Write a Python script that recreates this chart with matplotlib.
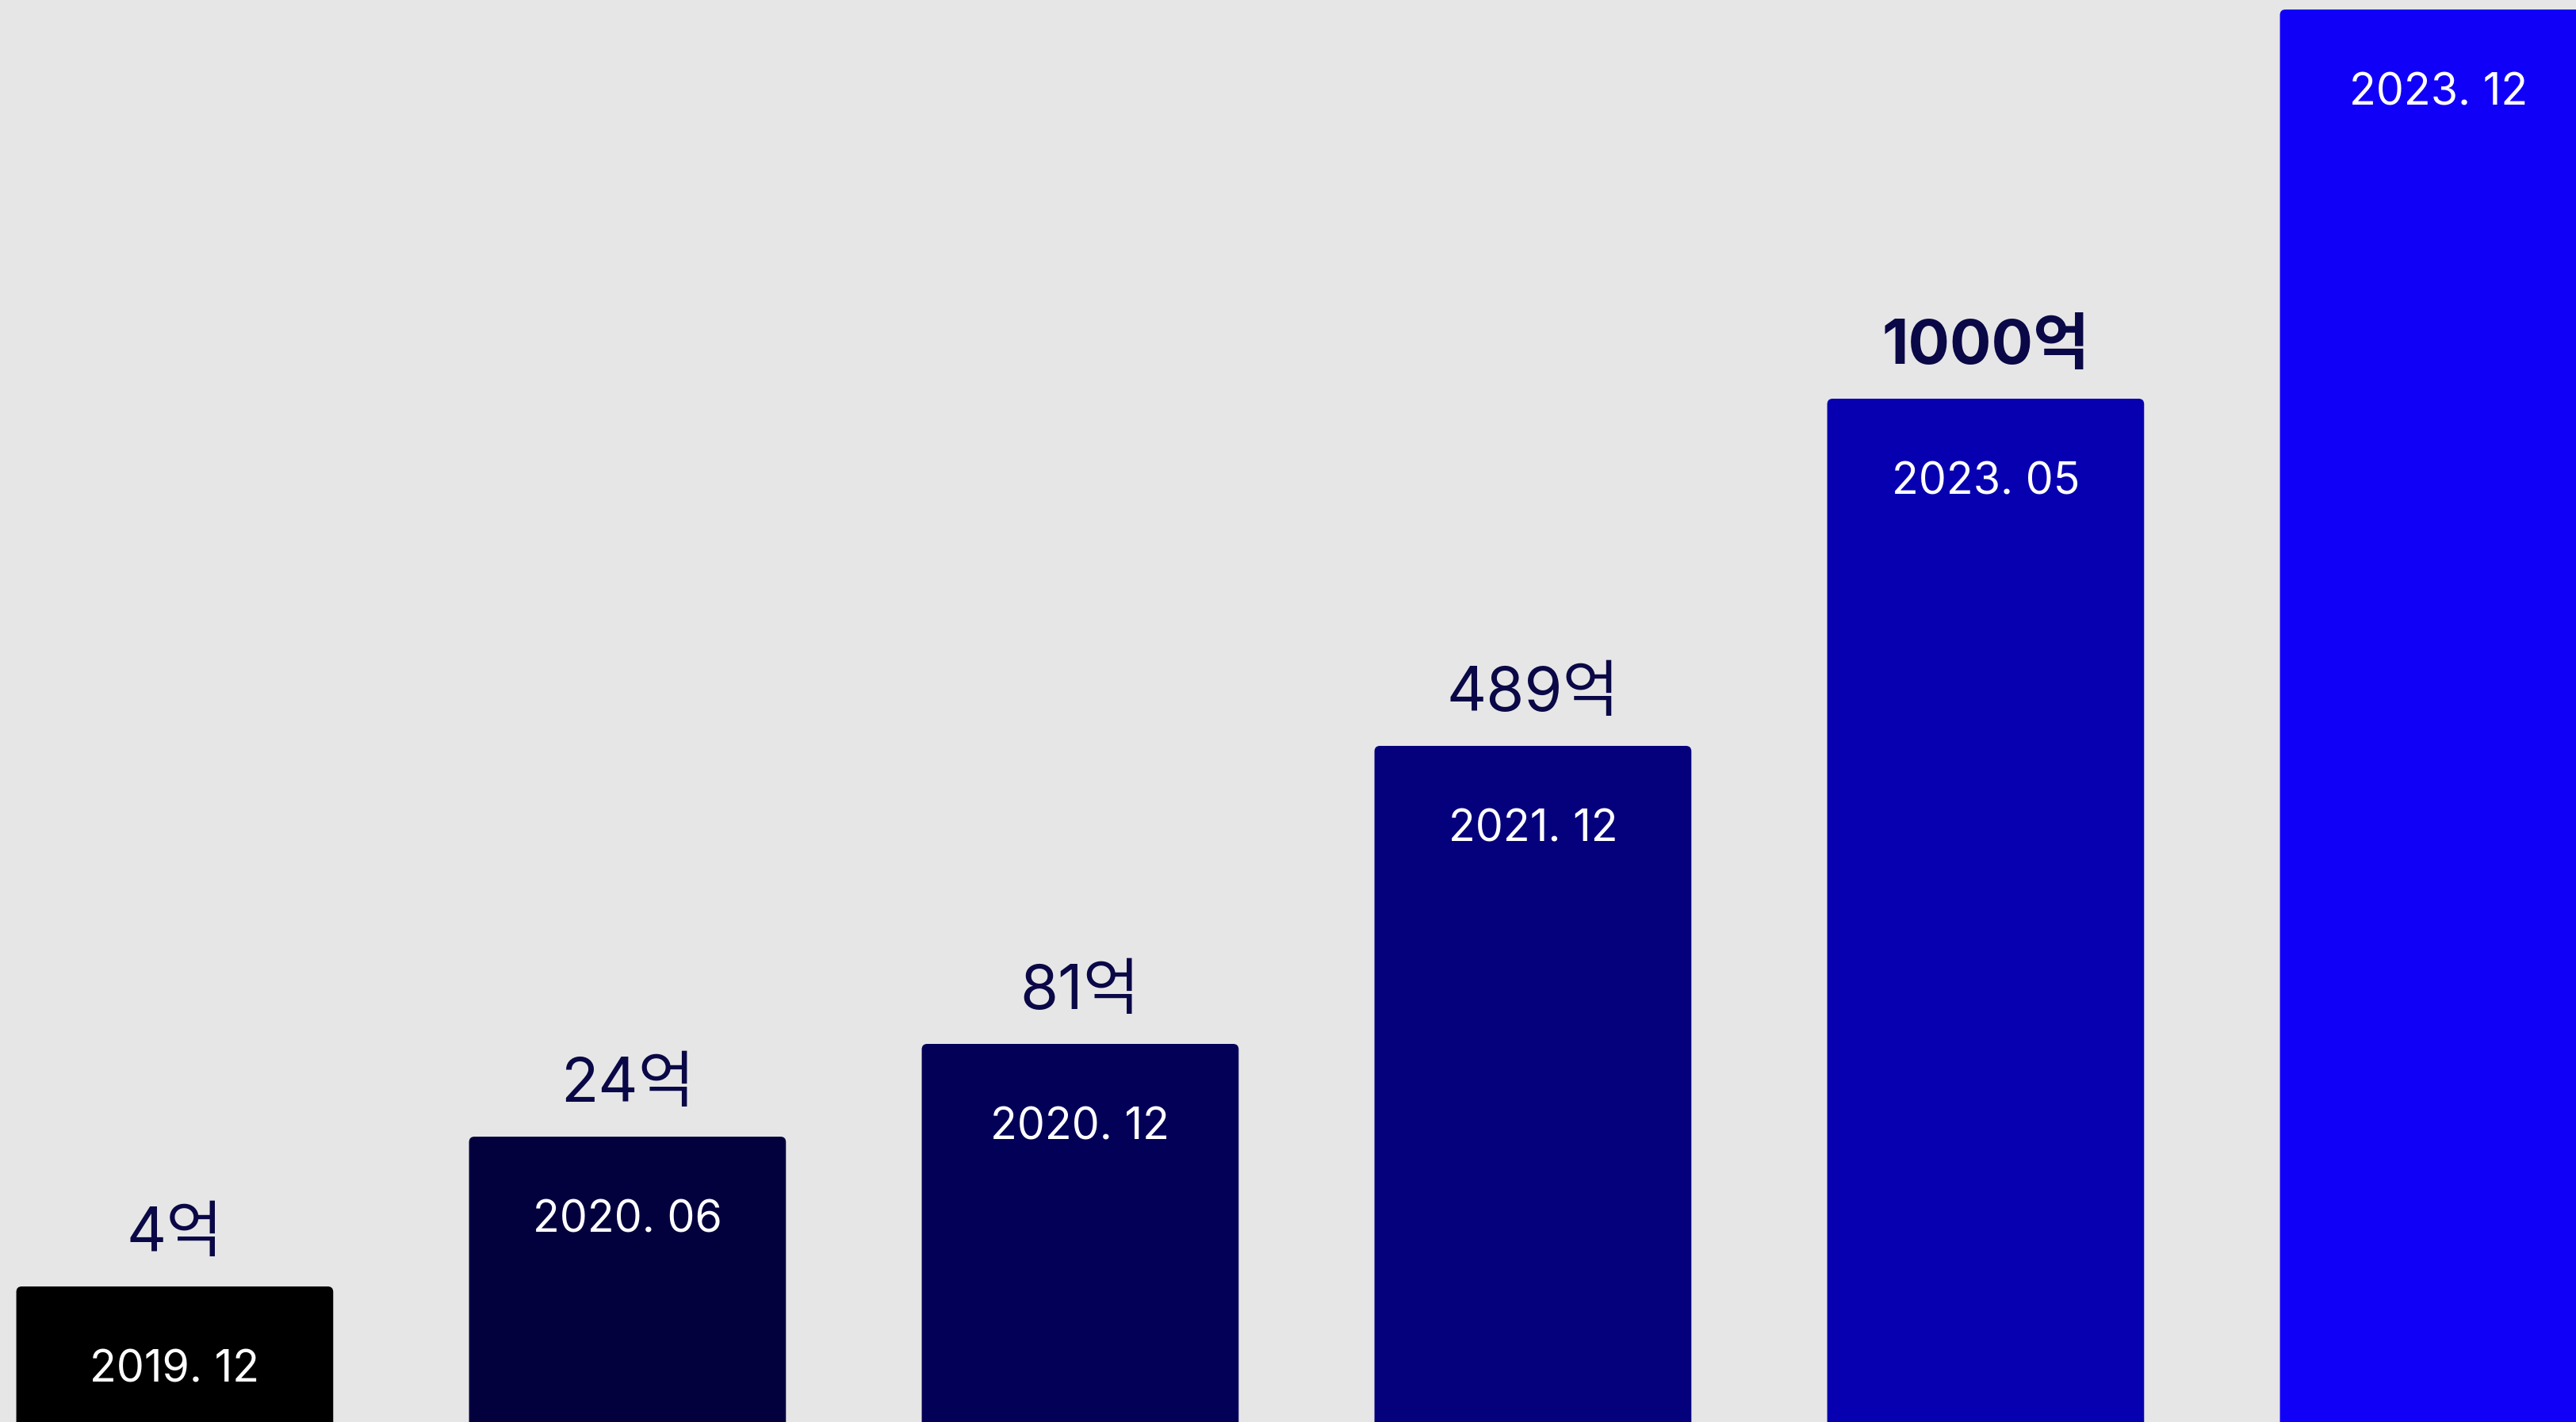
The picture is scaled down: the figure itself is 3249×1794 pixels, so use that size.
import matplotlib
matplotlib.use("Agg")
from matplotlib import pyplot as plt
from matplotlib.patches import FancyBboxPatch

plt.rcParams['font.family'] = ['Inter', 'Noto Sans CJK KR', 'DejaVu Sans']

# data (bar heights in picture pixels)
periods = ["2019. 12", "2020. 06", "2020. 12", "2021. 12", "2023. 05", "2023. 12"]
heights = [171, 360, 477, 853, 1291, 1782]
amounts = ["4억", "24억", "81억", "489억", "1000억", ""]
bold_flags = [False, False, False, False, True, False]
bar_colors = ["#000000", "#03003e", "#030057", "#05007b", "#0700b1", "#1000f7"]

bg = "#e6e6e6"
value_color = "#0a0846"

fig = plt.figure(figsize=(32.49, 17.94), dpi=100)
fig.patch.set_facecolor(bg)
ax = fig.add_axes([0, 0, 1, 1])
ax.set_facecolor(bg)

x = list(range(len(periods)))
bars = ax.bar(x, heights, width=0.70, color=bar_colors)

ax.set_xlim(-0.386, 5.304)
ax.set_ylim(0, 1794)
ax.axis("off")

# swap plain bars for slightly rounded ones
for b, c in zip(bars, bar_colors):
    b.set_visible(False)
    rb = FancyBboxPatch((b.get_x(), -20), b.get_width(), b.get_height() + 20,
                        boxstyle="round,pad=0,rounding_size=0.012",
                        mutation_aspect=580, facecolor=c, edgecolor="none")
    ax.add_patch(rb)

for xi, h, per, amt, bold in zip(x, heights, periods, amounts, bold_flags):
    if amt:
        ax.annotate(amt, (xi, h), xytext=(0, 32), textcoords="offset points",
                    ha="center", va="baseline", fontsize=56, color=value_color,
                    fontweight="bold" if bold else "normal")
    ax.annotate(per, (xi, h), xytext=(0, -87), textcoords="offset points",
                ha="center", va="baseline", fontsize=40, color="white")

fig.savefig("out.png", dpi=100, facecolor=bg)
